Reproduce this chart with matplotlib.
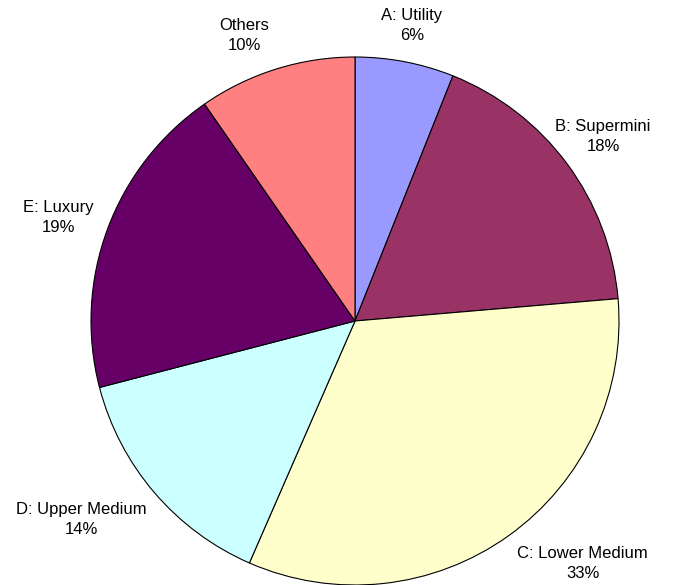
import numpy as np
import matplotlib.pyplot as plt

plt.rcParams['font.family'] = ['Liberation Sans', 'DejaVu Sans']

categories = ['A: Utility', 'B: Supermini', 'C: Lower Medium', 'D: Upper Medium', 'E: Luxury', 'Others']
shares = [6.05, 17.6, 32.9, 14.4, 19.4, 9.65]
labels_pct = [6, 18, 33, 14, 19, 10]
colors = ['#9999FF', '#993366', '#FFFFCC', '#CCFFFF', '#660066', '#FF8080']

fig = plt.figure(figsize=(6.74, 5.85), dpi=100)
ax = fig.add_axes([91 / 674, 0, 528 / 674, 528 / 585])

wedges, _ = ax.pie(shares, colors=colors, startangle=90, counterclock=False,
                   wedgeprops=dict(edgecolor='black', linewidth=0.8))
ax.set_xlim(-1, 1)
ax.set_ylim(-1, 1)
ax.set_aspect('equal')

# label placement (angle in degrees, distance in radii) like Excel puts them
lab_ang = [79.1, 36.6, -46.8, -144.1, 160.8, 111.2]
lab_dist = [1.14, 1.17, 1.26, 1.28, 1.19, 1.16]
for cat, pct, a, d in zip(categories, labels_pct, lab_ang, lab_dist):
    r = np.deg2rad(a)
    ax.text(d * np.cos(r), d * np.sin(r), f"{cat}\n{pct}%",
            ha='center', va='center', fontsize=12, linespacing=1.4)

fig.savefig('out.png', dpi=100)
